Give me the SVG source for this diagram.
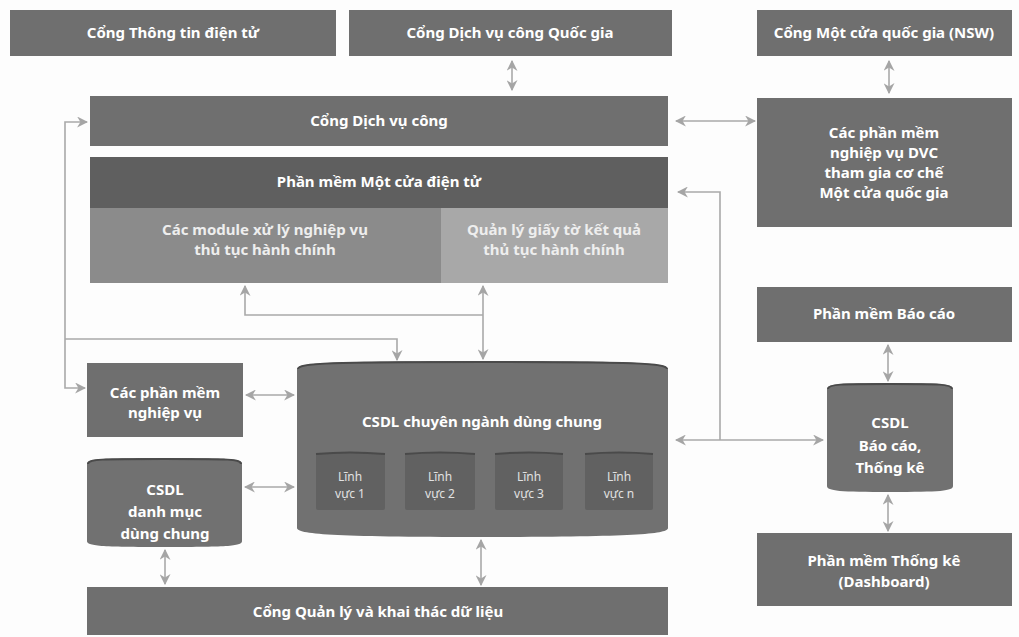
<svg xmlns="http://www.w3.org/2000/svg" width="1019" height="637" viewBox="0 0 1019 637">
<defs>
<style>
.box{fill:#6f6f6f}
.hdr{fill:#5f5f5f}
.subA{fill:#8b8b8b}
.subB{fill:#a8a8a8}
.cyl{fill:#717171}
.rim{fill:none;stroke:#4a4a4a;stroke-width:2}
.small{fill:#616161}
.t{font-family:"Noto Sans","Open Sans","DejaVu Sans",sans-serif;font-size:15px;font-weight:bold;fill:#ffffff;text-anchor:middle}
.ts{font-family:"Noto Sans","Open Sans","DejaVu Sans",sans-serif;font-size:12px;fill:#e2e2e2;text-anchor:middle}
.tl{fill:#eeeeee}
.c{fill:none;stroke:#a9a9a9;stroke-width:1.6}
</style>
<marker id="ah" viewBox="0 0 10 10" refX="9" refY="5" markerWidth="11" markerHeight="11" markerUnits="userSpaceOnUse" orient="auto-start-reverse">
<path d="M0,0 L10,5 L0,10 L3,5 Z" fill="#a5a5a5"/>
</marker>
</defs>
<rect width="1019" height="637" fill="#fdfdfd"/>

<g id="n-cttdt"><rect class="box" x="10" y="10" width="326" height="46"/><text class="t" x="173" y="38">Cổng Thông tin điện tử</text></g>
<g id="n-dvcqg"><rect class="box" x="349" y="10" width="323" height="46"/><text class="t" x="510" y="38">Cổng Dịch vụ công Quốc gia</text></g>
<g id="n-nsw"><rect class="box" x="757" y="10" width="255" height="46"/><text class="t" x="884" y="38">Cổng Một cửa quốc gia (NSW)</text></g>

<g id="n-dvc"><rect class="box" x="90" y="96" width="578" height="50"/><text class="t" x="379" y="126">Cổng Dịch vụ công</text></g>
<g id="n-pmdvc"><rect class="box" x="757" y="98" width="255" height="129"/>
<text class="t" x="884" y="138">Các phần mềm</text><text class="t" x="884" y="158">nghiệp vụ DVC</text><text class="t" x="884" y="178">tham gia cơ chế</text><text class="t" x="884" y="198">Một cửa quốc gia</text></g>

<g id="n-motcua"><rect class="hdr" x="90" y="157" width="578" height="51"/><text class="t" x="379" y="187">Phần mềm Một cửa điện tử</text>
<rect class="subA" x="90" y="208" width="351" height="75"/><text class="t tl" x="265" y="235">Các module xử lý nghiệp vụ</text><text class="t tl" x="265" y="255">thủ tục hành chính</text>
<rect class="subB" x="441" y="208" width="227" height="75"/><text class="t tl" x="554" y="235">Quản lý giấy tờ kết quả</text><text class="t tl" x="554" y="255">thủ tục hành chính</text></g>

<g id="n-baocao"><rect class="box" x="757" y="287" width="255" height="55"/><text class="t" x="884" y="319">Phần mềm Báo cáo</text></g>

<g id="n-pmnv"><rect class="box" x="87" y="363" width="156" height="74"/><text class="t" x="165" y="398">Các phần mềm</text><text class="t" x="165" y="418">nghiệp vụ</text></g>

<g id="n-csdlcn">
<path class="cyl" d="M297,369 C297,363 330,361 482,361 C634,361 668,363 668,369 L668,528 C668,534 634,537 482,537 C330,537 297,534 297,528 Z"/>
<path class="rim" d="M298,369 C298,363 330,362 482,362 C634,362 667,363 667,369"/>
<text class="t" x="482" y="427">CSDL chuyên ngành dùng chung</text>
<g id="n-lv1"><rect class="small" x="316" y="453" width="69" height="57" rx="2"/><path class="rim" d="M316,454 Q350,451 385,454"/><text class="ts" x="350" y="481">Lĩnh</text><text class="ts" x="350" y="498">vực 1</text></g>
<g id="n-lv2"><rect class="small" x="405" y="453" width="70" height="57" rx="2"/><path class="rim" d="M405,454 Q440,451 475,454"/><text class="ts" x="440" y="481">Lĩnh</text><text class="ts" x="440" y="498">vực 2</text></g>
<g id="n-lv3"><rect class="small" x="495" y="453" width="68" height="57" rx="2"/><path class="rim" d="M495,454 Q529,451 563,454"/><text class="ts" x="529" y="481">Lĩnh</text><text class="ts" x="529" y="498">vực 3</text></g>
<g id="n-lvn"><rect class="small" x="585" y="453" width="68" height="57" rx="2"/><path class="rim" d="M585,454 Q619,451 653,454"/><text class="ts" x="619" y="481">Lĩnh</text><text class="ts" x="619" y="498">vực n</text></g>
</g>

<g id="n-csdldm">
<path class="cyl" d="M87,464 C87,459 100,458 165,458 C230,458 242,459 242,464 L242,541 C242,546 230,547 165,547 C100,547 87,546 87,541 Z"/>
<path class="rim" d="M88,464 C88,459 100,459 165,459 C230,459 241,459 241,464"/>
<text class="t" x="165" y="495">CSDL</text><text class="t" x="165" y="517">danh mục</text><text class="t" x="165" y="539">dùng chung</text></g>

<g id="n-csdlbc">
<path class="cyl" d="M827,389 C827,384 840,383 890,383 C940,383 953,384 953,389 L953,486 C953,491 940,492 890,492 C840,492 827,491 827,486 Z"/>
<path class="rim" d="M828,389 C828,384 840,384 890,384 C940,384 952,384 952,389"/>
<text class="t" x="890" y="428">CSDL</text><text class="t" x="890" y="451">Báo cáo,</text><text class="t" x="890" y="473">Thống kê</text></g>

<g id="n-thongke"><rect class="box" x="757" y="533" width="255" height="73"/><text class="t" x="884" y="566">Phần mềm Thống kê</text><text class="t" x="884" y="587">(Dashboard)</text></g>

<g id="n-qlkt"><rect class="box" x="87" y="587" width="581" height="48"/><text class="t" x="378" y="617">Cổng Quản lý và khai thác dữ liệu</text></g>

<g id="connectors">
<line class="c" x1="512" y1="61" x2="512" y2="90" marker-start="url(#ah)" marker-end="url(#ah)"/>
<line class="c" x1="889" y1="61" x2="889" y2="93" marker-start="url(#ah)" marker-end="url(#ah)"/>
<line class="c" x1="676" y1="121" x2="755" y2="121" marker-start="url(#ah)" marker-end="url(#ah)"/>
<polyline class="c" points="720,440 720,192 678,192" marker-end="url(#ah)"/>
<line class="c" x1="676" y1="440" x2="823" y2="440" marker-start="url(#ah)" marker-end="url(#ah)"/>
<polyline class="c" points="87,122 65,122 65,388 85,388" marker-start="url(#ah)" marker-end="url(#ah)"/>
<polyline class="c" points="65,339 397,339 397,360" marker-end="url(#ah)"/>
<polyline class="c" points="245,286 245,315 483,315" marker-start="url(#ah)"/>
<line class="c" x1="483" y1="286" x2="483" y2="359" marker-start="url(#ah)" marker-end="url(#ah)"/>
<line class="c" x1="246" y1="395" x2="294" y2="395" marker-start="url(#ah)" marker-end="url(#ah)"/>
<line class="c" x1="245" y1="487" x2="294" y2="487" marker-start="url(#ah)" marker-end="url(#ah)"/>
<line class="c" x1="165" y1="550" x2="165" y2="584" marker-start="url(#ah)" marker-end="url(#ah)"/>
<line class="c" x1="481" y1="540" x2="481" y2="585" marker-start="url(#ah)" marker-end="url(#ah)"/>
<line class="c" x1="888" y1="345" x2="888" y2="381" marker-start="url(#ah)" marker-end="url(#ah)"/>
<line class="c" x1="888" y1="495" x2="888" y2="531" marker-start="url(#ah)" marker-end="url(#ah)"/>
</g>
</svg>
